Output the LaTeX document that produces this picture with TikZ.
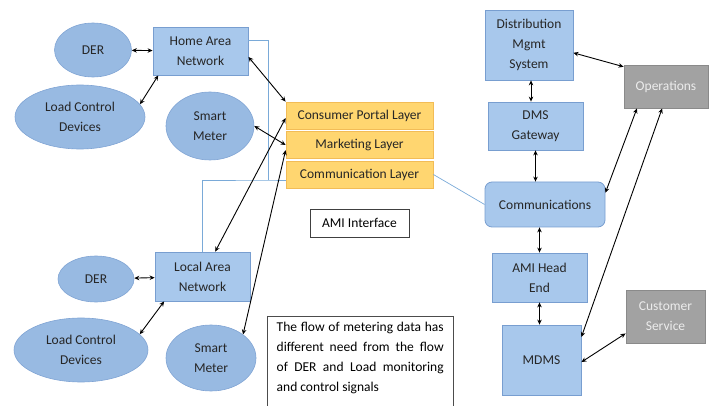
\documentclass[tikz,border=0pt]{standalone}
\usepackage{fontspec}
\setmainfont{Carlito}
\usepackage{tikz}
\usetikzlibrary{shapes.geometric, arrows.meta, positioning, calc}
\definecolor{boxfill}{RGB}{168,200,236}
\definecolor{boxedge}{RGB}{120,158,208}
\definecolor{ovalfill}{RGB}{152,186,226}
\definecolor{ovaledge}{RGB}{128,164,212}
\definecolor{layfill}{RGB}{255,214,112}
\definecolor{layedge}{RGB}{242,188,86}
\definecolor{opfill}{RGB}{162,162,162}
\definecolor{opedge}{RGB}{138,138,138}
\definecolor{optext}{RGB}{236,236,236}
\definecolor{wirecol}{RGB}{122,170,216}
\definecolor{txtdark}{RGB}{38,38,38}
\tikzset{
  blk/.style={rectangle, draw=boxedge, fill=boxfill, align=center,
    inner sep=0pt, text=txtdark, line width=0.8pt},
  oval/.style={ellipse, draw=ovaledge, fill=ovalfill, align=center,
    inner sep=0pt, text=txtdark, line width=0.6pt},
  layer/.style={rectangle, draw=layedge, fill=layfill, minimum width=147pt,
    minimum height=27pt, inner sep=0pt, text=txtdark, line width=0.8pt},
  opbox/.style={rectangle, draw=opedge, fill=opfill, align=center,
    inner sep=0pt, text=optext, line width=0.8pt},
  link/.style={{Stealth[length=5pt,width=4.5pt]}-{Stealth[length=5pt,width=4.5pt]}, line width=0.9pt, color=black},
  wire/.style={color=wirecol, line width=0.7pt}
}

\begin{document}
\begin{tikzpicture}[x=1pt, y=-1pt, every node/.style={font=\fontsize{13.5}{20}\selectfont}]
  \useasboundingbox (0,0) rectangle (713,406);

  % Home area (top left)
  \node[blk, minimum width=95pt, minimum height=48pt] (han) at (200.5,51) {Home Area\\Network};
  \node[oval, minimum width=77pt, minimum height=54pt] (der1) at (93,50) {DER};
  \node[oval, minimum width=130pt, minimum height=64pt] (lcd1) at (80,117) {Load Control\\Devices};
  \node[oval, minimum width=88pt, minimum height=68pt] (sm1) at (210,126) {Smart\\Meter};

  % Local area (bottom left)
  \node[blk, minimum width=95pt, minimum height=49pt] (lan) at (202.5,276.5) {Local Area\\Network};
  \node[oval, minimum width=76pt, minimum height=46pt] (der2) at (96,279) {DER};
  \node[oval, minimum width=134pt, minimum height=64pt] (lcd2) at (81,350) {Load Control\\Devices};
  \node[oval, minimum width=90pt, minimum height=66pt] (sm2) at (211,358) {Smart\\Meter};

  % AMI interface layers
  \node[layer] (cpl) at (359.5,115.5) {Consumer Portal Layer};
  \node[layer] (mkt) at (359.5,145) {Marketing Layer};
  \node[layer] (col) at (359.5,174.5) {Communication Layer};
  \node[draw=black!75, fill=white, minimum width=99pt, minimum height=28pt, inner sep=0pt] (ami) at (359.5,223) {AMI Interface};

  % Note
  \node[anchor=north west, text width=167pt, align=justify, inner xsep=9.5pt, inner ysep=6pt, text=black] (note) at (267,316)
    {The flow of metering data has different need from the flow\linebreak of DER and Load monitoring and control signals};
  \draw[black!70, line width=0.8pt] (note.north west) -- (note.north east);
  \draw[black!70, line width=0.8pt] (note.north west) -- ++(0,95);
  \draw[black!70, line width=0.8pt] (note.north east) -- ++(0,95);

  % Utility side (right)
  \node[blk, minimum width=88pt, minimum height=70pt] (dms) at (529,45) {Distribution\\Mgmt\\System};
  \node[blk, minimum width=95pt, minimum height=48pt] (gw) at (535.5,126) {DMS\\Gateway};
  \node[blk, rounded corners=7pt, minimum width=120pt, minimum height=45pt] (comm) at (545,204.5) {Communications};
  \node[blk, minimum width=95pt, minimum height=49pt] (head) at (539.5,277.5) {AMI Head\\End};
  \node[blk, minimum width=79pt, minimum height=70pt] (mdms) at (541.5,360) {MDMS};
  \node[opbox, minimum width=84pt, minimum height=43pt] (ops) at (666,86.5) {Operations};
  \node[opbox, minimum width=79pt, minimum height=53pt] (cs) at (665.5,316.5) {Customer\\Service};

  % Thin wiring
  \coordinate (jn) at (268,180);
  \draw[wire] (han.13) -| (jn);
  \draw[wire] (lan.north) |- (jn) -- (jn -| col.west);
  \draw[wire] (col.east) -- (comm.west);

  % Arrows, left
  \draw[link] (der1) -- (han);
  \draw[link] (lcd1.12) -- (han.210);
  \draw[link] (han.-7) -- (cpl.north west);
  \draw[link] (sm1.east) -- (mkt.west);
  \draw[link] (lan.63) -- (cpl.182);
  \draw[link] (sm2.north east) -- (mkt.184);
  \draw[link] (der2) -- (lan);
  \draw[link] (lcd2.15) -- (lan.213);

  % Arrows, right
  \draw[link] (gw.north -| 531,0) -- (dms.south -| 531,0);
  \draw[link] (dms.-10) -- (ops.155);
  \draw[link] (gw.south) -- (gw.south |- comm.north);
  \draw[link] (comm.11) -- (ops.217);
  \draw[link] (mdms.30) -- (ops.260);
  \draw[link] (head.north) -- (head.north |- comm.south);
  \draw[link] (head.south) -- (head.south |- mdms.north);
  \draw[link] (mdms.-3) -- (cs.203);
\end{tikzpicture}
\end{document}
